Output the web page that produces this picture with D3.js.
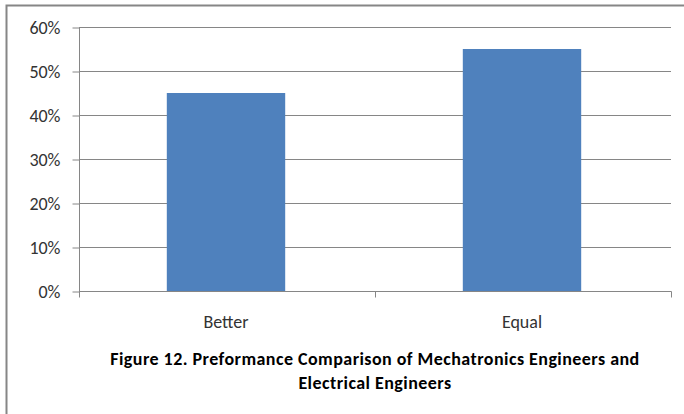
<!DOCTYPE html>
<html><head><meta charset="utf-8">
<script src="https://cdn.jsdelivr.net/npm/d3@7"></script>
<style>body{margin:0;background:#fff}svg{display:block}</style>
</head><body>
<script>
const categories = ["Better", "Equal"];
const values = [0.45, 0.55];
const yTicks = [0, 0.1, 0.2, 0.3, 0.4, 0.5, 0.6];
const titleLines = ["Figure 12. Preformance Comparison of Mechatronics Engineers and", "Electrical Engineers"];

(function () {
const W = 684, H = 414;
const svg = d3.select("body").append("svg").attr("width", W).attr("height", H);
const font = "Carlito, 'Liberation Sans', 'Open Sans', sans-serif";

// outer frame
svg.append("rect").attr("x", 6.5).attr("y", 5.5).attr("width", 690).attr("height", 420)
  .attr("fill", "none").attr("stroke", "#868686").attr("stroke-width", 2);

const pL = 79, pR = 671, pT = 27, pB = 291;
const x = d3.scaleBand().domain(categories).range([pL, pR]).paddingInner(0.6).paddingOuter(0.3);
const y = d3.scaleLinear().domain([0, 0.6]).range([pB, pT]);

// gridlines
svg.append("g").selectAll("line").data(yTicks).join("line")
  .attr("x1", pL).attr("x2", pR)
  .attr("y1", d => Math.round(y(d)) + 0.5).attr("y2", d => Math.round(y(d)) + 0.5)
  .attr("stroke", "#868686").attr("stroke-width", 1);

// bars
svg.append("g").selectAll("rect").data(values).join("rect")
  .attr("x", (d, i) => x(categories[i]) - 1)
  .attr("width", x.bandwidth())
  .attr("y", d => y(d))
  .attr("height", d => y(0) - y(d))
  .attr("fill", "#4F81BD");

// y axis
const yAxis = d3.axisLeft(y).tickValues(yTicks).tickFormat(d3.format(".0%")).tickSize(7).tickPadding(12);
const gy = svg.append("g").attr("transform", `translate(${pL + 0.5},0.5)`).call(yAxis);
gy.select(".domain").attr("stroke", "#868686").attr("d", `M0,${pT}V${pB}`);
gy.selectAll(".tick line").attr("stroke", "#868686");
gy.selectAll(".tick text").attr("font-family", font).attr("font-size", 18).attr("fill", "#333")
  .attr("dy", "0.34em");

// x axis
const gx = svg.append("g").attr("transform", `translate(0,${pB + 0.5})`);
gx.append("line").attr("x1", pL).attr("x2", pR + 0.5).attr("stroke", "#868686");
const boundaries = [pL, (pL + pR) / 2, pR];
gx.selectAll("line.t").data(boundaries).join("line").attr("class", "t")
  .attr("x1", d => Math.round(d) + 0.5).attr("x2", d => Math.round(d) + 0.5)
  .attr("y1", 0).attr("y2", 6).attr("stroke", "#868686");
gx.selectAll("text").data(categories).join("text")
  .attr("x", d => x(d) + x.bandwidth() / 2 - 1)
  .attr("y", 36)
  .attr("text-anchor", "middle")
  .attr("font-family", font).attr("font-size", 18).attr("fill", "#333")
  .text(d => d);

// title
svg.append("g").selectAll("text").data(titleLines).join("text")
  .attr("x", 375).attr("y", (d, i) => 365 + i * 24)
  .attr("text-anchor", "middle")
  .attr("font-family", font).attr("font-size", 18).attr("font-weight", "bold").attr("fill", "#000")
  .attr("letter-spacing", 0.45)
  .text(d => d);
})();
</script>
</body></html>
